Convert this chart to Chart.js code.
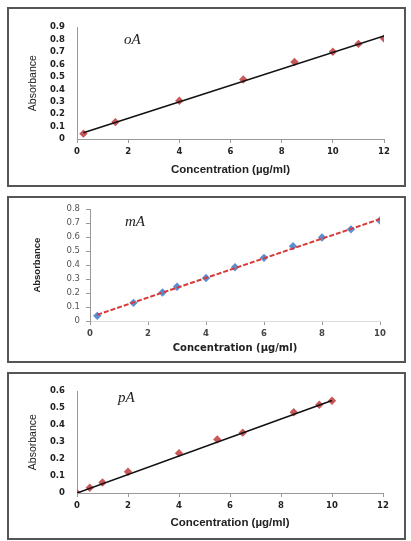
<!DOCTYPE html>
<html><head><meta charset="utf-8">
<script src="https://cdn.jsdelivr.net/npm/chart.js@4"></script>
<style>
html,body{margin:0;padding:0;background:#fff;}
body{width:411px;height:541px;position:relative;overflow:hidden;}
.box{position:absolute;border:2px solid #555;box-sizing:border-box;}
canvas{position:absolute;}
</style></head><body>
<div class="box" style="left:7px;top:7px;width:399px;height:180px"></div>
<div class="box" style="left:7px;top:196px;width:399px;height:167px"></div>
<div class="box" style="left:7px;top:372px;width:399px;height:168px"></div>
<canvas id="c1" width="392" height="172" style="left:10px;top:11px"></canvas>
<canvas id="c2" width="392" height="161" style="left:10px;top:199px"></canvas>
<canvas id="c3" width="392" height="161" style="left:10px;top:375px"></canvas>
<script>
// ---- data ----
const xTitle = 'Concentration (µg/ml)';
const yTitle = 'Absorbance';

const oA_names = 'oA';
const oA_conc = [0.25, 1.5, 4, 6.5, 8.5, 10, 11, 12];
const oA_abs  = [0.043, 0.136, 0.308, 0.479, 0.62, 0.703, 0.766, 0.81];
const oA_fitConc = [0.25, 12];
const oA_fitAbs  = [0.05, 0.83];

const mA_names = 'mA';
const mA_conc = [0.25, 1.5, 2.5, 3, 4, 5, 6, 7, 8, 9, 10];
const mA_abs  = [0.037, 0.13, 0.204, 0.245, 0.308, 0.385, 0.452, 0.536, 0.598, 0.656, 0.72];
const mA_fitConc = [0.25, 10];
const mA_fitAbs  = [0.045, 0.73];

const pA_names = 'pA';
const pA_conc = [0, 0.5, 1, 2, 4, 5.5, 6.5, 8.5, 9.5, 10];
const pA_abs  = [0, 0.031, 0.062, 0.125, 0.235, 0.316, 0.356, 0.476, 0.52, 0.544];
const pA_fitConc = [0, 10];
const pA_fitAbs  = [0, 0.545];

const cornerLabel = {
  id: 'cornerLabel',
  afterDraw(chart, args, opts) {
    const {ctx, chartArea} = chart;
    ctx.save();
    ctx.font = 'italic 15px "Liberation Serif", "DejaVu Serif", serif';
    ctx.fillStyle = '#222';
    ctx.textBaseline = 'middle';
    ctx.textAlign = 'left';
    ctx.fillText(opts.text, chartArea.left + opts.dx, chartArea.top + opts.dy);
    ctx.restore();
  }
};

function panel(id, o) {
  const pts = (xs, ys) => xs.map((x, i) => ({x: x, y: ys[i]}));
  return new Chart(document.getElementById(id), {
    type: 'scatter',
    data: {
      datasets: [
        {label: 'fit', data: pts(o.fx, o.fy), showLine: true, pointRadius: 0,
         borderColor: o.lineColor, borderWidth: o.lineWidth, borderDash: o.dash, order: 0},
        {label: 'data', data: pts(o.x, o.y), pointStyle: 'rectRot', pointRadius: 4.2,
         backgroundColor: o.ptColor, borderColor: o.ptColor, borderWidth: 0, order: 1}
      ]
    },
    options: {
      responsive: false, animation: false, devicePixelRatio: 1,
      layout: {padding: {left: 0, right: o.padR, top: o.padT, bottom: 0}},
      plugins: {legend: {display: false}, tooltip: {enabled: false},
        cornerLabel: {text: o.name, dx: o.ldx, dy: o.ldy}},
      scales: {
        x: {type: 'linear', min: 0, max: o.xMax,
          ticks: {stepSize: 2, color: o.xTickColor, padding: 4, autoSkip: false, maxRotation: 0,
            font: {family: '"DejaVu Sans", sans-serif', size: 8.5, weight: 'bold'}},
          grid: {drawOnChartArea: false, drawTicks: true, tickLength: 4, color: '#999'},
          border: {display: true, color: o.xBorder, width: 1},
          title: {display: true, text: xTitle, color: '#222',
            font: {family: o.xTitleFamily, size: o.xTitleSize, weight: 'bold'},
            padding: {top: 0, bottom: 6}},
          afterFit: s => { s.height = o.xH; }
        },
        y: {type: 'linear', min: 0, max: o.yMax,
          ticks: {stepSize: 0.1, color: o.yTickColor, padding: o.yPad, autoSkip: false,
            font: {family: '"DejaVu Sans", sans-serif', size: 8.5, weight: o.yTickWeight, lineHeight: 1}},
          grid: {drawOnChartArea: false, drawTicks: o.yTicks, tickLength: 4, color: '#999'},
          border: {display: true, color: '#999', width: 1},
          title: {display: true, text: yTitle, color: '#222',
            font: {family: '"Liberation Sans Narrow", "Liberation Sans", Arial, sans-serif', size: o.yTitleSize, weight: o.yTitleWeight},
            padding: {top: o.yTitleTop, bottom: 0}},
          afterFit: s => { s.width = o.yW; }
        }
      }
    },
    plugins: [cornerLabel]
  });
}

panel('c1', {name: oA_names, x: oA_conc, y: oA_abs, fx: oA_fitConc, fy: oA_fitAbs,
  lineColor: '#111', lineWidth: 1.6, dash: [], ptColor: '#c8585a',
  xMax: 12, yMax: 0.9, padR: 18, padT: 9, xH: 44, yW: 67, yPad: 12, yTicks: false,
  xTickColor: '#222', xBorder: '#999', xTitleFamily: '"Liberation Sans", Arial, sans-serif', xTitleSize: 11.5,
  yTickColor: '#222', yTickWeight: 'bold', yTitleWeight: 'normal', yTitleSize: 10.5, yTitleTop: 17, ldx: 47, ldy: 13});

panel('c2', {name: mA_names, x: mA_conc, y: mA_abs, fx: mA_fitConc, fy: mA_fitAbs,
  lineColor: '#d83a3a', lineWidth: 2, dash: [5, 2], ptColor: '#5b8fd2',
  xMax: 10, yMax: 0.8, padR: 22, padT: 7, xH: 39, yW: 80, yPad: 6, yTicks: true,
  xTickColor: '#444', xBorder: '#ddd', xTitleFamily: '"DejaVu Sans", sans-serif', xTitleSize: 10,
  yTickColor: '#555', yTickWeight: 'normal', yTitleWeight: 'bold', yTitleSize: 9.5, yTitleTop: 22, ldx: 35, ldy: 13});

panel('c3', {name: pA_names, x: pA_conc, y: pA_abs, fx: pA_fitConc, fy: pA_fitAbs,
  lineColor: '#111', lineWidth: 1.6, dash: [], ptColor: '#c8585a',
  xMax: 12, yMax: 0.6, padR: 19, padT: 8, xH: 43, yW: 67, yPad: 12, yTicks: false,
  xTickColor: '#222', xBorder: '#999', xTitleFamily: '"Liberation Sans", Arial, sans-serif', xTitleSize: 11.5,
  yTickColor: '#222', yTickWeight: 'bold', yTitleWeight: 'normal', yTitleSize: 10.5, yTitleTop: 17, ldx: 41, ldy: 7});
</script>
</body></html>
